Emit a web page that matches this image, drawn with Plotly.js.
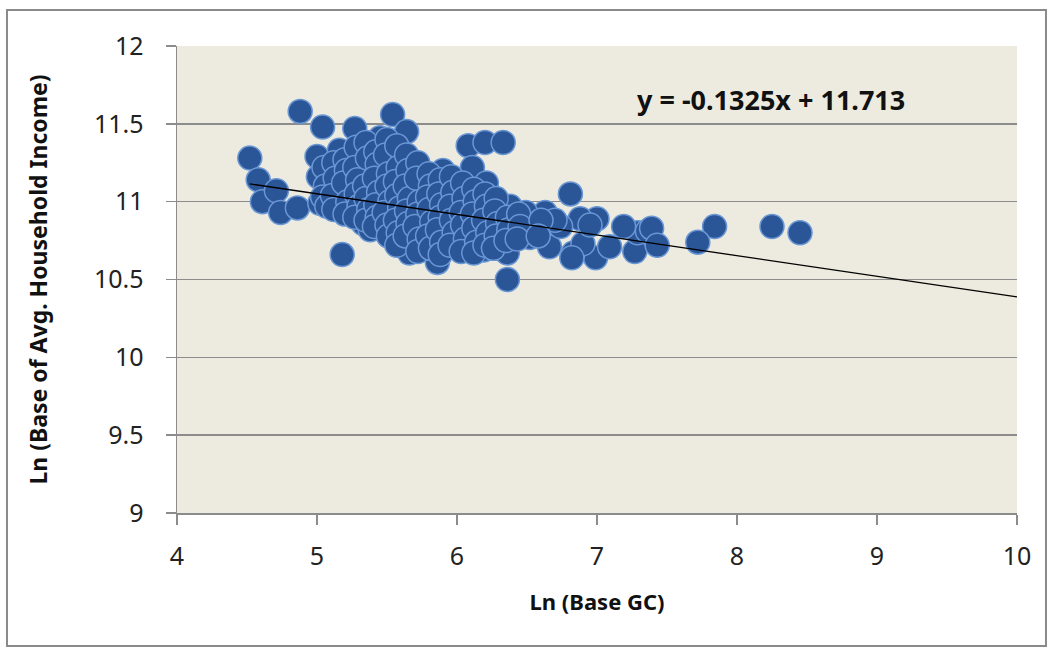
<!DOCTYPE html>
<html>
<head>
<meta charset="utf-8">
<script src="https://cdn.plot.ly/plotly-3.0.1.min.js"></script>
<style>html,body{margin:0;padding:0;background:#fff;}#chart{width:1050px;height:652px;}</style>
</head>
<body>
<div id="chart"></div>
<script>
// Ln (Base GC)
const lnBaseGC = [
  4.52,4.58,4.61,4.71,4.74,4.86,4.88,5.04,5.27,5.00,5.16,5.01,5.02,5.16,5.18,5.29,5.38,5.09,5.23,5.33,
  5.38,5.54,5.64,5.45,6.08,6.20,6.33,6.11,5.59,5.90,5.76,5.93,6.21,6.38,5.66,5.86,6.36,6.19,6.33,6.01,
  5.52,6.81,6.36,7.27,6.99,7.00,6.88,6.63,6.66,6.52,6.83,7.29,7.36,7.84,7.72,8.25,8.45,7.39,7.43,6.49,
  6.74,6.54,6.90,7.09,7.19,6.82,6.95,6.70,
  5.05,5.06,5.04,5.07,
  5.12,5.13,5.11,5.12,
  5.20,5.21,5.19,5.22,5.20,
  5.28,5.27,5.29,5.28,5.30,5.27,
  5.35,5.36,5.34,5.35,5.37,5.35,
  5.42,5.43,5.41,5.44,5.42,5.43,5.41,
  5.50,5.49,5.51,5.50,5.52,5.48,5.50,5.51,
  5.57,5.58,5.56,5.57,5.59,5.56,5.58,5.57,
  5.64,5.65,5.63,5.66,5.64,5.65,5.63,
  5.72,5.71,5.73,5.72,5.70,5.73,5.72,
  5.80,5.81,5.79,5.80,5.82,5.79,5.81,
  5.88,5.87,5.89,5.88,5.86,5.89,5.88,
  5.96,5.97,5.95,5.96,5.98,5.95,
  6.04,6.05,6.03,6.04,6.06,6.03,
  6.12,6.13,6.11,6.12,6.14,6.12,
  6.20,6.21,6.19,6.22,6.20,
  6.28,6.27,6.29,6.28,6.26,
  6.36,6.37,6.35,
  6.44,6.45,6.43,
  6.60,6.58
];
// Ln (Base of Avg. Household Income)
const lnIncome = [
  11.28,11.14,11.00,11.07,10.93,10.96,11.58,11.48,11.47,11.29,11.33,11.16,10.99,10.96,10.66,11.29,11.18,11.07,11.07,10.86,
  10.82,11.56,11.45,11.41,11.36,11.38,11.38,11.22,11.29,11.20,11.07,11.09,11.12,10.97,10.67,10.61,10.50,10.69,10.69,10.80,
  10.80,11.05,10.67,10.68,10.64,10.89,10.89,10.93,10.71,10.77,10.67,10.80,10.81,10.84,10.74,10.84,10.80,10.83,10.72,10.93,
  10.84,10.82,10.73,10.71,10.84,10.64,10.85,10.88,
  11.22,11.10,11.03,10.97,
  11.25,11.15,11.04,10.95,
  11.27,11.20,11.12,11.00,10.92,
  11.35,11.22,11.14,11.05,10.97,10.90,
  11.38,11.28,11.10,11.02,10.95,10.88,
  11.32,11.24,11.15,11.06,10.98,10.90,10.84,
  11.40,11.30,11.18,11.10,11.00,10.93,10.85,10.78,
  11.36,11.22,11.13,11.04,10.96,10.88,10.80,10.72,
  11.30,11.20,11.10,11.02,10.94,10.86,10.78,
  11.25,11.15,11.00,10.92,10.84,10.76,10.68,
  11.18,11.10,11.03,10.95,10.87,10.78,10.70,
  11.14,11.05,10.98,10.90,10.82,10.74,10.66,
  11.16,11.06,10.97,10.88,10.80,10.72,
  11.12,11.02,10.93,10.85,10.76,10.68,
  11.08,11.00,10.92,10.83,10.74,10.67,
  11.05,10.97,10.88,10.80,10.72,
  11.02,10.94,10.86,10.78,10.70,
  10.90,10.82,10.75,
  10.92,10.84,10.76,
  10.88,10.78
];
// Linear trendline as printed on the chart
const trendSlope = -0.1325;
const trendIntercept = 11.713;
const trendX = [4.52, 10];
const trendY = trendX.map(v => trendSlope * v + trendIntercept);
const equationText = 'y = -0.1325x + 11.713';
const xTicks = [4,5,6,7,8,9,10];
const yTicks = [9,9.5,10,10.5,11,11.5,12];

const FONT = '"Noto Sans", "Open Sans", sans-serif';

const traces = [
  {
    type: 'scatter', mode: 'markers',
    x: lnBaseGC, y: lnIncome,
    marker: {size: 24, color: '#2a5597', line: {color: '#6a97d4', width: 1.5}},
    hoverinfo: 'x+y', showlegend: false
  },
  {
    type: 'scatter', mode: 'lines',
    x: trendX, y: trendY,
    line: {color: '#000000', width: 1.3},
    hoverinfo: 'skip', showlegend: false
  }
];

const layout = {
  width: 1050, height: 652,
  margin: {l: 177, r: 33, t: 46, b: 139},
  paper_bgcolor: '#ffffff',
  plot_bgcolor: '#edebdf',
  font: {family: FONT, color: '#222222'},
  showlegend: false,
  xaxis: {
    range: [4, 10], tickvals: xTicks, ticktext: xTicks.map(String),
    showgrid: false, zeroline: false,
    showline: true, linecolor: '#8c8c8c', linewidth: 1.5,
    ticks: 'outside', ticklen: 10, tickcolor: '#8c8c8c', tickwidth: 1.5,
    ticklabelstandoff: 10,
    tickfont: {family: FONT, size: 25, color: '#222'},
    title: {text: 'Ln (Base GC)', font: {family: FONT, size: 22, color: '#111', weight: 'bold'}, standoff: 24},
    fixedrange: true
  },
  yaxis: {
    range: [9, 12], tickvals: yTicks, ticktext: yTicks.map(String),
    showgrid: true, gridcolor: '#8c8c8c', gridwidth: 1.5,
    zeroline: false,
    showline: true, linecolor: '#8c8c8c', linewidth: 1.5,
    ticks: 'outside', ticklen: 10, tickcolor: '#8c8c8c', tickwidth: 1.5,
    ticklabelstandoff: 17,
    tickfont: {family: FONT, size: 25, color: '#222'},
    title: {text: 'Ln (Base of Avg. Household Income)', font: {family: FONT, size: 23, color: '#111', weight: 'bold'}, standoff: 40},
    fixedrange: true
  },
  annotations: [{
    x: 8.24, y: 11.655, xref: 'x', yref: 'y',
    text: '<b>' + equationText + '</b>', showarrow: false,
    font: {family: FONT, size: 27, color: '#111'}
  }],
  shapes: [{
    type: 'rect', xref: 'paper', yref: 'paper',
    x0: -0.2024, x1: 1.0345, y0: -0.2848, y1: 1.0771,
    line: {color: '#8a8a8a', width: 2}, fillcolor: 'rgba(0,0,0,0)', layer: 'below'
  }]
};

Plotly.newPlot('chart', traces, layout, {displayModeBar: false, staticPlot: true});
</script>
</body>
</html>
